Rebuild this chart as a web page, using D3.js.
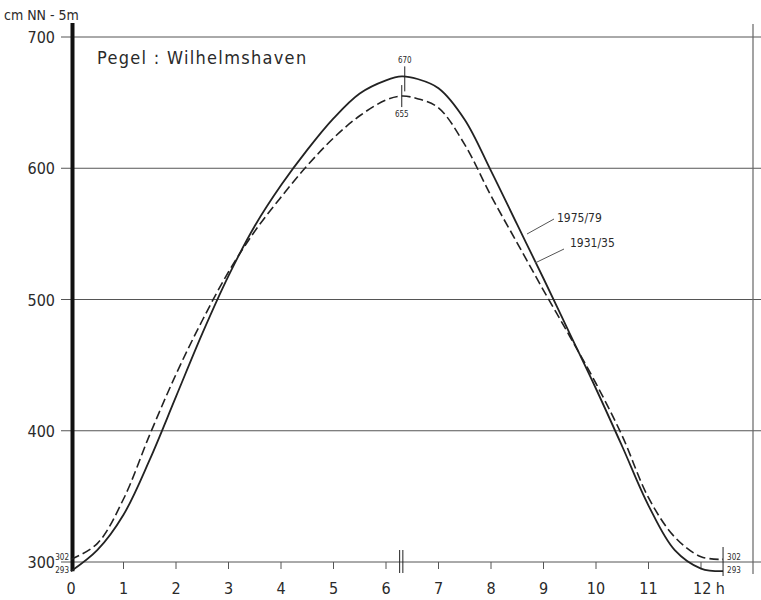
<!DOCTYPE html>
<html>
<head>
<meta charset="utf-8">
<script src="https://cdn.jsdelivr.net/npm/d3@7"></script>
<style>
  html, body { margin: 0; padding: 0; background: #fff; }
  svg { display: block; }
  text { font-family: "Liberation Sans Narrow", "DejaVu Sans Condensed", "Roboto", sans-serif; fill: #2a2a2a; }
</style>
</head>
<body>
<svg id="chart" width="761" height="600"></svg>
<script>
// Mean tide curve at the Wilhelmshaven gauge (cm above NN - 5 m), two periods
const hours      = [0, 0.5, 1, 1.5, 2, 2.5, 3, 3.5, 4, 4.5, 5, 5.5, 6, 6.3, 6.6, 7, 7.5, 8, 8.5, 9, 9.5, 10, 10.5, 11, 11.5, 12, 12.42];
const tide197579 = [293, 309, 336, 378, 426, 474, 518, 556, 587, 614, 638, 657, 667, 670, 668, 661, 637, 598, 557, 516, 474, 432, 388, 343, 309, 295, 293];
const tide193135 = [302, 314, 348, 397, 443, 484, 521, 552, 578, 602, 623, 640, 652, 655, 653, 646, 618, 579, 543, 507, 472, 436, 396, 349, 319, 304, 302];

const yTicks = [300, 400, 500, 600, 700];
const xTicks = [0, 1, 2, 3, 4, 5, 6, 7, 8, 9, 10, 11, 12];
const xTickLabels = ["0", "1", "2", "3", "4", "5", "6", "7", "8", "9", "10", "11", "12 h"];

const peakTime = 6.3, tideEnd = 12.42;
const hwNew = 670, hwOld = 655, lwNew = 293, lwOld = 302;

const svg = d3.select("#chart");
const x = d3.scaleLinear().domain([0, 12]).range([71, 701]);
const y = d3.scaleLinear().domain([300, 700]).range([562, 37]);

const ink = "#222";
const grid = "#555";

// horizontal grid lines (700..400) and baseline at 300
svg.append("g").selectAll("line").data(yTicks).join("line")
  .attr("x1", 61).attr("x2", 761)
  .attr("y1", d => y(d)).attr("y2", d => y(d))
  .attr("stroke", grid).attr("stroke-width", 1);

// y tick labels
svg.append("g").selectAll("text").data(yTicks).join("text")
  .attr("x", 55).attr("y", d => y(d) + 6)
  .attr("text-anchor", "end").attr("font-size", 16)
  .text(d => d);

// unit label
svg.append("text").attr("x", 4).attr("y", 20).attr("font-size", 14).text("cm NN - 5m");

// right frame line
svg.append("line").attr("x1", 753).attr("x2", 753).attr("y1", 24).attr("y2", 574)
  .attr("stroke", "#666").attr("stroke-width", 1.2);

// x ticks below the baseline
svg.append("g").selectAll("line").data(xTicks.slice(1)).join("line")
  .attr("x1", d => x(d)).attr("x2", d => x(d))
  .attr("y1", y(300)).attr("y2", y(300) + 7)
  .attr("stroke", grid).attr("stroke-width", 1);

svg.append("g").selectAll("text").data(xTicks).join("text")
  .attr("x", (d, i) => x(d) + (i === 12 ? 8 : 0)).attr("y", 594)
  .attr("text-anchor", "middle").attr("font-size", 16)
  .text((d, i) => xTickLabels[i]);

// axis break mark at high water time
[-1.6, 1.6].forEach(o => {
  svg.append("line").attr("x1", x(peakTime) + o - 0.5).attr("x2", x(peakTime) + o - 0.5)
    .attr("y1", 550).attr("y2", 573).attr("stroke", ink).attr("stroke-width", 1);
});

// end of tide marker
svg.append("line").attr("x1", x(tideEnd)).attr("x2", x(tideEnd))
  .attr("y1", 547).attr("y2", 576).attr("stroke", ink).attr("stroke-width", 1);

// thick left axis
svg.append("line").attr("x1", 72.5).attr("x2", 72.5)
  .attr("y1", 23).attr("y2", y(lwNew))
  .attr("stroke", "#111").attr("stroke-width", 4);

// title
svg.append("text").attr("x", 97).attr("y", 64).attr("font-size", 18)
  .attr("letter-spacing", 1.3).text("Pegel : Wilhelmshaven");

// tide curves
const line = d3.line().x((d, i) => x(hours[i])).y(d => y(d)).curve(d3.curveCatmullRom.alpha(0.5));
svg.append("path").datum(tide197579).attr("d", line)
  .attr("fill", "none").attr("stroke", ink).attr("stroke-width", 1.8);
svg.append("path").datum(tide193135).attr("d", line)
  .attr("fill", "none").attr("stroke", ink).attr("stroke-width", 1.6)
  .attr("stroke-dasharray", "9,4");

// high water markers and values
svg.append("line").attr("x1", x(peakTime) + 3).attr("x2", x(peakTime) + 3)
  .attr("y1", y(hwNew) - 10).attr("y2", y(hwNew) + 15).attr("stroke", ink).attr("stroke-width", 1);
svg.append("text").attr("x", x(peakTime) + 3).attr("y", y(hwNew) - 13)
  .attr("text-anchor", "middle").attr("font-size", 8).text(hwNew);
svg.append("line").attr("x1", x(peakTime)).attr("x2", x(peakTime))
  .attr("y1", y(hwOld) - 11).attr("y2", y(hwOld) + 11).attr("stroke", ink).attr("stroke-width", 1);
svg.append("text").attr("x", x(peakTime)).attr("y", y(hwOld) + 21)
  .attr("text-anchor", "middle").attr("font-size", 8).text(hwOld);

// low water values at both ends
[[x(0) - 2, "end"], [x(tideEnd) + 4, "start"]].forEach(([lx, anchor]) => {
  svg.append("text").attr("x", lx).attr("y", y(lwOld) + 1).attr("text-anchor", anchor)
    .attr("font-size", 8).text(lwOld);
  svg.append("text").attr("x", lx).attr("y", y(lwNew) + 2).attr("text-anchor", anchor)
    .attr("font-size", 8).text(lwNew);
});

// series labels with leader lines
svg.append("line").attr("x1", 527).attr("y1", 234).attr("x2", 554).attr("y2", 219)
  .attr("stroke", grid).attr("stroke-width", 1);
svg.append("text").attr("x", 557).attr("y", 222).attr("font-size", 12).text("1975/79");
svg.append("line").attr("x1", 535).attr("y1", 263).attr("x2", 564).attr("y2", 249)
  .attr("stroke", grid).attr("stroke-width", 1);
svg.append("text").attr("x", 570).attr("y", 247).attr("font-size", 12).text("1931/35");
</script>
</body>
</html>
